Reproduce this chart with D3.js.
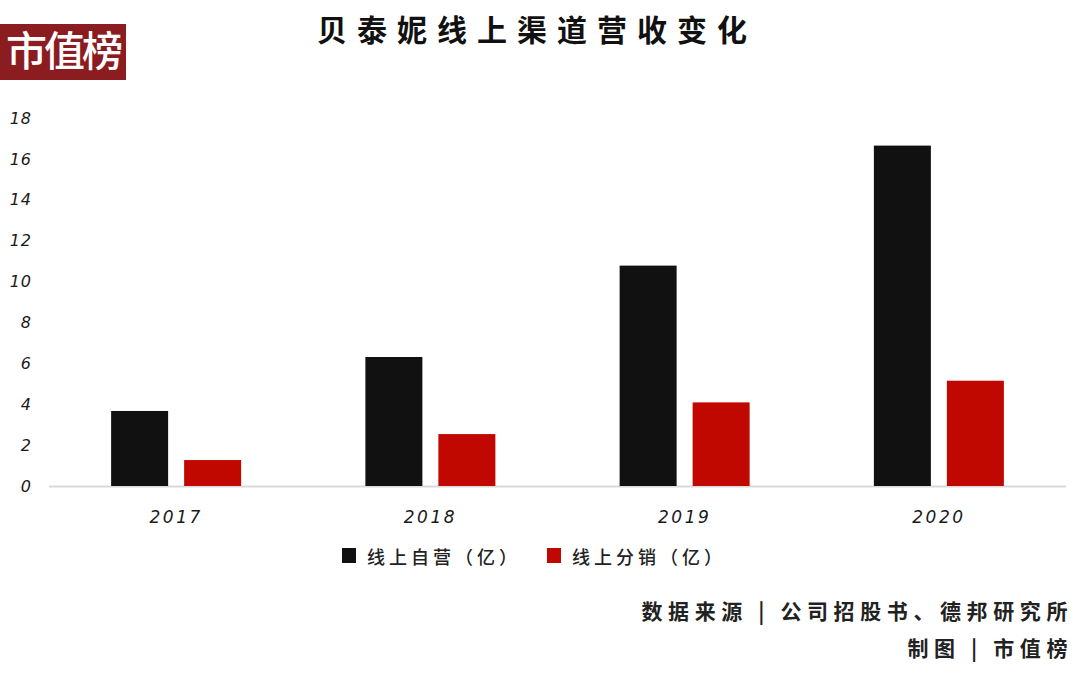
<!DOCTYPE html>
<html><head><meta charset="utf-8">
<script src="https://cdn.jsdelivr.net/npm/d3@7"></script>
<style>
html,body{margin:0;padding:0;background:#fff;}
svg{display:block;}
</style></head>
<body>
<svg id="chart" width="1080" height="681"></svg>
<script>
const categories = ["2017", "2018", "2019", "2020"];
const seriesNames = ["线上自营（亿）", "线上分销（亿）"];
const selfOperated = [3.67, 6.31, 10.78, 16.65];
const distribution = [1.27, 2.54, 4.09, 5.15];
const yTicks = [0, 2, 4, 6, 8, 10, 12, 14, 16, 18];
const colors = ["#111111", "#c00800"];
const titleText = "贝泰妮线上渠道营收变化";
const sourceLines = ["数据来源 | 公司招股书、德邦研究所", "制图 | 市值榜"];
const logoText = "市值榜";

const svg = d3.select("#chart");
const cjk = "'Noto Sans CJK SC', 'Noto Sans', sans-serif";

// logo
svg.append("rect").attr("x", 0).attr("y", 24).attr("width", 126).attr("height", 56).attr("fill", "#8b1c20");
svg.append("text").attr("x", 63).attr("y", 66).attr("text-anchor", "middle")
  .attr("font-family", cjk).attr("font-size", 41).attr("font-weight", 500).attr("fill", "#fff")
  .attr("letter-spacing", -3).text(logoText);

// title
svg.append("text").attr("x", 537).attr("y", 41).attr("text-anchor", "middle")
  .attr("font-family", cjk).attr("font-size", 30).attr("font-weight", 700).attr("fill", "#111")
  .attr("letter-spacing", 10).text(titleText);

const x0 = d3.scaleBand().domain(categories).range([49, 1066]).paddingInner(0).paddingOuter(0);
const y = d3.scaleLinear().domain([0, 18]).range([486, 118]);

const barW = 57, gap = 16;

// baseline
svg.append("line").attr("x1", 49).attr("x2", 1066).attr("y1", y(0) + 0.5).attr("y2", y(0) + 0.5)
  .attr("stroke", "#d9d9d9").attr("stroke-width", 2);

const series = [selfOperated, distribution];
categories.forEach((c, i) => {
  const cx = x0(c) + x0.bandwidth() / 2;
  series.forEach((s, k) => {
    const bx = k === 0 ? cx - gap / 2 - barW : cx + gap / 2;
    svg.append("rect").attr("x", bx).attr("width", barW)
      .attr("y", y(s[i])).attr("height", y(0) - y(s[i]))
      .attr("fill", colors[k]);
  });
});

// y axis labels
const yAxis = d3.axisLeft(y).tickValues(yTicks).tickSize(0).tickPadding(0);
const gy = svg.append("g").attr("transform", "translate(32,0)").call(yAxis);
gy.select(".domain").remove();
gy.selectAll("text").attr("font-family", "'DejaVu Sans', sans-serif").attr("font-style", "italic")
  .attr("font-size", 16).attr("fill", "#1a1a1a").attr("letter-spacing", 1);

// x axis labels
const xAxis = d3.axisBottom(x0).tickSize(0).tickPadding(0);
const gx = svg.append("g").attr("transform", "translate(0,511)").call(xAxis);
gx.select(".domain").remove();
gx.selectAll("text").attr("font-family", "'DejaVu Sans', sans-serif").attr("font-style", "italic")
  .attr("font-size", 17).attr("fill", "#1a1a1a").attr("letter-spacing", 2.5).attr("dy", "0.71em");

// legend
const legendX = [342, 547];
seriesNames.forEach((n, k) => {
  svg.append("rect").attr("x", legendX[k]).attr("y", 548).attr("width", 14).attr("height", 15).attr("fill", colors[k]);
  svg.append("text").attr("x", legendX[k] + 25).attr("y", 564)
    .attr("font-family", cjk).attr("font-size", 18).attr("font-weight", 500).attr("fill", "#222")
    .attr("letter-spacing", 4).text(n);
});

// source
sourceLines.forEach((t, i) => {
  svg.append("text").attr("x", 1073).attr("y", 619 + i * 37).attr("text-anchor", "end")
    .attr("font-family", cjk).attr("font-size", 21).attr("font-weight", 700).attr("fill", "#222")
    .attr("letter-spacing", 5.6).text(t);
});
</script>
</body></html>
